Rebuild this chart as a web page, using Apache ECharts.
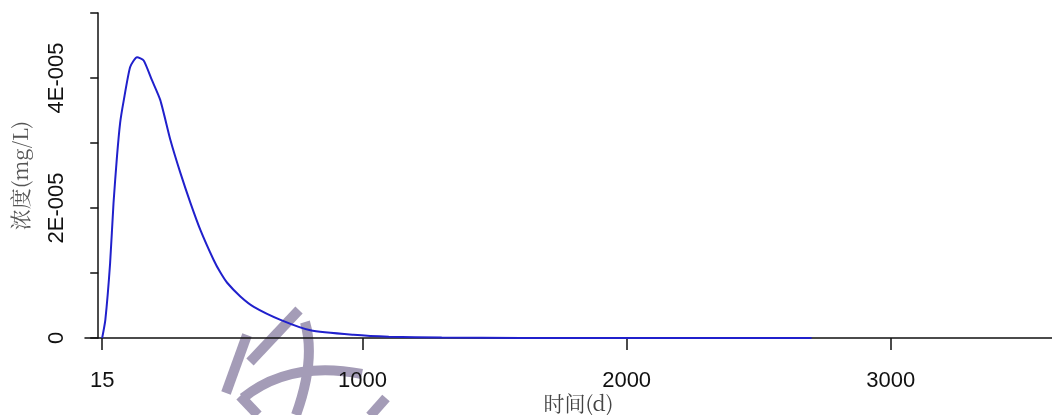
<!DOCTYPE html>
<html>
<head>
<meta charset="utf-8">
<script src="https://cdn.jsdelivr.net/npm/echarts@6/dist/echarts.min.js"></script>
<style>
  html, body { margin: 0; padding: 0; background: #fff; }
  #chart { width: 1052px; height: 415px; }
</style>
</head>
<body>
<div id="chart"></div>
<script>
// Breakthrough curve: concentration over time
const times = [15, 27, 45, 58, 71, 83, 96, 121, 147, 172, 203, 235, 273, 311, 349, 387, 437, 462, 488, 538, 589, 690, 803, 966, 1100, 1300, 1600, 2000, 2400, 2700];
const concentration = [0, 0.28e-5, 1.15e-5, 2.08e-5, 2.79e-5, 3.31e-5, 3.64e-5, 4.17e-5, 4.32e-5, 4.27e-5, 3.97e-5, 3.66e-5, 3.05e-5, 2.54e-5, 2.08e-5, 1.66e-5, 1.20e-5, 1.01e-5, 0.85e-5, 0.64e-5, 0.48e-5, 0.28e-5, 0.12e-5, 0.05e-5, 0.02e-5, 0.006e-5, 0.001e-5, 0, 0, 0];

const xTicks = [15, 1000, 2000, 3000];
const yTicks = [0, 1e-5, 2e-5, 3e-5, 4e-5, 5e-5];
const yLabelValues = [0, 2e-5, 4e-5];
const yLabelText = ['0', '2E-005', '4E-005'];

const xName = '时间(d)';
const yName = '浓度(mg/L)';

const chart = echarts.init(document.getElementById('chart'), null, { renderer: 'canvas' });

const axisColor = '#111';
const stamp = '#a49cb7';
const cjkSerif = '"Noto Serif CJK SC", "Noto Sans CJK SC", serif';

function yLabel(v) {
  for (let i = 0; i < yLabelValues.length; i++) {
    if (Math.abs(v - yLabelValues[i]) < 1e-9) return yLabelText[i];
  }
  return '';
}

chart.setOption({
  animation: false,
  backgroundColor: '#fff',
  grid: { left: 85, right: 0, top: 13, bottom: 77, containLabel: false, outerBoundsMode: 'none' },
  xAxis: {
    type: 'value',
    min: -50,
    max: 3610,
    name: xName,
    nameLocation: 'middle',
    nameGap: 55,
    nameMoveOverlap: false,
    nameTextStyle: { fontFamily: cjkSerif, fontSize: 21, color: '#444', padding: [0, 0, 0, 20] },
    axisLine: { show: true, onZero: false, lineStyle: { color: axisColor, width: 1.5 } },
    axisTick: { show: true, length: 12, customValues: xTicks, lineStyle: { color: axisColor, width: 1.5 } },
    axisLabel: {
      customValues: xTicks,
      margin: 32,
      fontFamily: 'Liberation Sans',
      fontSize: 22,
      color: '#111',
      formatter: (v) => String(v)
    },
    splitLine: { show: false }
  },
  yAxis: {
    type: 'value',
    min: 0,
    max: 5e-5,
    name: yName,
    nameLocation: 'middle',
    nameRotate: 90,
    nameGap: 54,
    nameMoveOverlap: false,
    nameTextStyle: { fontFamily: cjkSerif, fontSize: 21, color: '#555' },
    axisLine: { show: true, onZero: true, lineStyle: { color: axisColor, width: 1.5 } },
    axisTick: { show: true, length: 8, customValues: yTicks, lineStyle: { color: axisColor, width: 1.5 } },
    axisLabel: {
      customValues: yLabelValues,
      rotate: 90,
      margin: 17,
      fontFamily: 'Liberation Sans',
      fontSize: 22,
      color: '#111',
      formatter: yLabel
    },
    splitLine: { show: false }
  },
  series: [{
    type: 'line',
    data: times.map((t, i) => [t, concentration[i]]),
    showSymbol: false,
    smooth: 0.2,
    lineStyle: { color: '#2020cc', width: 2 },
    z: 3
  }],
  graphic: [
    { type: 'group', z: 100, silent: true, children: [
      { type: 'polyline', shape: { points: [[299, 310], [250, 362]] }, style: { stroke: stamp, lineWidth: 10, fill: null } },
      { type: 'polyline', shape: { points: [[247, 335], [226, 393]] }, style: { stroke: stamp, lineWidth: 10, fill: null } },
      { type: 'bezierCurve', shape: { x1: 305, y1: 322, x2: 296, y2: 415, cpx1: 316, cpy1: 360 }, style: { stroke: stamp, lineWidth: 10, fill: null } },
      { type: 'bezierCurve', shape: { x1: 243, y1: 398, x2: 362, y2: 374, cpx1: 290, cpy1: 360 }, style: { stroke: stamp, lineWidth: 10, fill: null } },
      { type: 'polyline', shape: { points: [[240, 396], [258, 415]] }, style: { stroke: stamp, lineWidth: 10, fill: null } },
      { type: 'polyline', shape: { points: [[386, 398], [370, 416]] }, style: { stroke: stamp, lineWidth: 10, fill: null } }
    ]}
  ]
});
</script>
</body>
</html>
